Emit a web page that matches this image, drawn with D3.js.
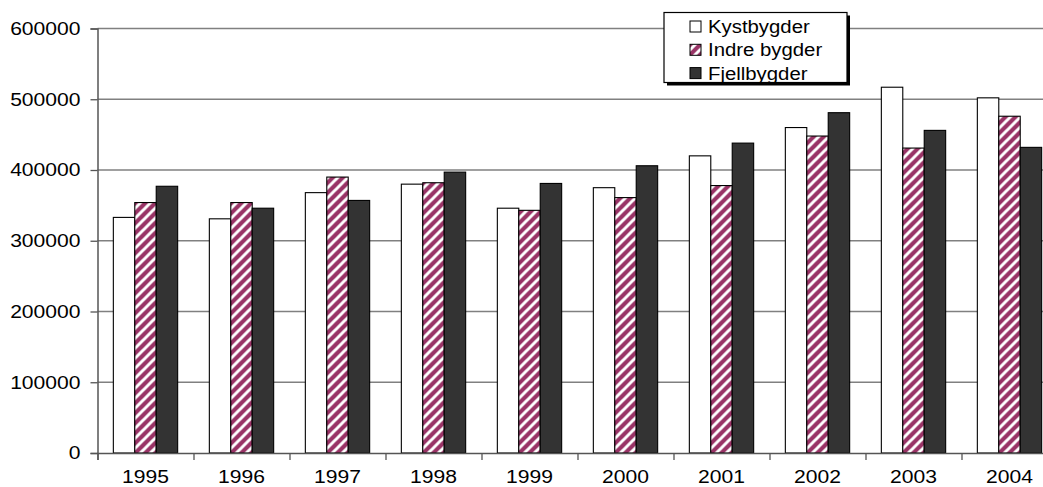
<!DOCTYPE html>
<html>
<head>
<meta charset="utf-8">
<script src="https://cdn.jsdelivr.net/npm/d3@7"></script>
<style>
  body { margin: 0; background: #fff; }
  svg { display: block; font-family: "Liberation Sans", Arial, sans-serif; }
</style>
</head>
<body>
<div id="chart"></div>
<script>
var years = ["1995", "1996", "1997", "1998", "1999", "2000", "2001", "2002", "2003", "2004"]
var seriesNames = ["Kystbygder", "Indre bygder", "Fjellbygder"]
var kystbygder = [333000, 331000, 368000, 380000, 346000, 375000, 420000, 460000, 517000, 502000]
var indreBygder = [354000, 354000, 390000, 382000, 343000, 361000, 378000, 448000, 431000, 476000]
var fjellbygder = [377000, 346000, 357000, 397000, 381000, 406000, 438000, 481000, 456000, 432000]
var yTicks = [0, 100000, 200000, 300000, 400000, 500000, 600000]

var width = 1043, height = 487
var plotLeft = 97.5, plotRight = 1057.5, plotTop = 28.5, plotBottom = 453

var svg = d3.select("#chart").append("svg")
  .attr("width", width)
  .attr("height", height)

// hatch pattern for "Indre bygder"
var defs = svg.append("defs")
var pat = defs.append("pattern")
  .attr("id", "hatch")
  .attr("patternUnits", "userSpaceOnUse")
  .attr("width", 10)
  .attr("height", 10)
pat.append("rect").attr("width", 10).attr("height", 10).attr("fill", "#993366")
pat.append("path")
  .attr("d", "M-2.5,2.5 L2.5,-2.5 M0,10 L10,0 M7.5,12.5 L12.5,7.5")
  .attr("stroke", "#fff")
  .attr("stroke-width", 3)

var colors = ["#ffffff", "url(#hatch)", "#333333"]

var x0 = d3.scaleBand().domain(years).range([plotLeft, plotRight]).paddingInner(0.33).paddingOuter(0.165)
var x1 = d3.scaleBand().domain(seriesNames).range([0, x0.bandwidth()])
var y = d3.scaleLinear().domain([0, 600000]).range([plotBottom, plotTop])
var xEdge = d3.scaleLinear().domain([0, years.length]).range([plotLeft, plotRight])

var stretch = 1.14

// gridlines
svg.append("g")
  .selectAll("line")
  .data(yTicks.slice(1))
  .join("line")
  .attr("x1", plotLeft).attr("x2", plotRight)
  .attr("y1", d => y(d)).attr("y2", d => y(d))
  .attr("stroke", "#808080")
  .attr("stroke-width", 1.3)

// bars
var rows = years.map((yr, i) => ({ year: yr, values: [kystbygder[i], indreBygder[i], fjellbygder[i]] }))

svg.append("g")
  .selectAll("g")
  .data(rows)
  .join("g")
  .attr("transform", d => "translate(" + x0(d.year) + ",0)")
  .selectAll("rect")
  .data(d => d.values.map((v, k) => ({ key: seriesNames[k], value: v, k: k })))
  .join("rect")
  .attr("x", d => x1(d.key))
  .attr("y", d => y(d.value))
  .attr("width", x1.bandwidth())
  .attr("height", d => plotBottom - y(d.value))
  .attr("fill", d => colors[d.k])
  .attr("stroke", "#000")
  .attr("stroke-width", 1.1)

// y axis
var yAxis = svg.append("g")
  .attr("transform", "translate(" + plotLeft + ",0)")
  .call(d3.axisLeft(y).tickValues(yTicks).tickFormat(d3.format("d")).tickSize(7).tickPadding(10))
yAxis.select(".domain").attr("stroke", "#555").attr("stroke-width", 1.5)
yAxis.selectAll(".tick line").attr("stroke", "#555").attr("stroke-width", 1.3)
yAxis.selectAll("text")
  .attr("font-size", 18.5)
  .attr("fill", "#000")
  .attr("font-family", "Liberation Sans, Arial, sans-serif")
  .each(function() {
    var t = d3.select(this)
    var xx = +t.attr("x")
    t.attr("x", 0).attr("transform", "translate(" + xx + ",0) scale(" + stretch + ",1)")
  })

// x axis edges (ticks between categories)
var xAxisEdges = svg.append("g")
  .attr("transform", "translate(0," + plotBottom + ")")
  .call(d3.axisBottom(xEdge).tickValues(d3.range(years.length + 1)).tickFormat("").tickSize(7))
xAxisEdges.select(".domain").attr("stroke", "#555").attr("stroke-width", 1.5)
xAxisEdges.selectAll(".tick line").attr("stroke", "#555").attr("stroke-width", 1.3)

// x labels
var xAxis = svg.append("g")
  .attr("transform", "translate(0," + plotBottom + ")")
  .call(d3.axisBottom(x0).tickSize(0).tickPadding(17))
xAxis.select(".domain").remove()
xAxis.selectAll("text")
  .attr("font-size", 18.5)
  .attr("fill", "#000")
  .attr("font-family", "Liberation Sans, Arial, sans-serif")
  .attr("transform", "scale(" + stretch + ",1)")
  .attr("x", 0)

// legend
var lg = svg.append("g").attr("transform", "translate(664,12.5)")
lg.append("rect")
  .attr("x", 3).attr("y", 3)
  .attr("width", 183).attr("height", 70)
  .attr("fill", "#000")
lg.append("rect")
  .attr("width", 183).attr("height", 70)
  .attr("fill", "#fff")
  .attr("stroke", "#000")
  .attr("stroke-width", 1.2)

var items = lg.selectAll("g.item")
  .data(seriesNames)
  .join("g")
  .attr("class", "item")
  .attr("transform", (d, i) => "translate(26," + (14 + i * 23.3) + ")")
items.append("rect")
  .attr("x", 0).attr("y", -5.5)
  .attr("width", 11).attr("height", 11)
  .attr("fill", (d, i) => colors[i])
  .attr("stroke", "#000")
  .attr("stroke-width", 1)
items.append("text")
  .attr("transform", "translate(18,0) scale(1.1,1)")
  .attr("dy", "0.36em")
  .attr("font-size", 18.5)
  .attr("fill", "#000")
  .text(d => d)
</script>
</body>
</html>
